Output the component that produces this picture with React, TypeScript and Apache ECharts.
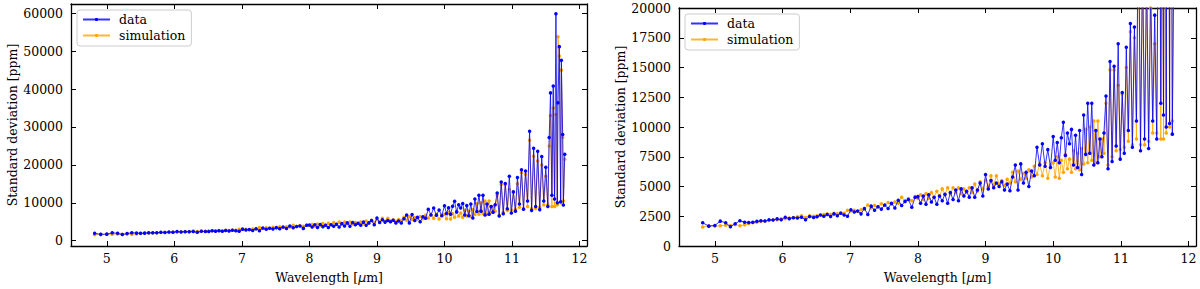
import React, { useEffect, useRef } from "react";
import * as echarts from "echarts";

const WAVELENGTH = [
  4.82, 4.91, 5.0, 5.08, 5.16, 5.23, 5.3, 5.37, 5.44, 5.5,
  5.56, 5.62, 5.68, 5.74, 5.8, 5.86, 5.92, 5.98, 6.04, 6.1, 6.16, 6.22, 6.28, 6.34, 6.4, 6.46,
  6.51, 6.56, 6.61, 6.66, 6.71, 6.76, 6.81, 6.86, 6.91, 6.96,
  7.01, 7.06, 7.11, 7.16, 7.21, 7.26, 7.31, 7.36, 7.41, 7.46,
  7.51, 7.56, 7.61, 7.66, 7.71, 7.76, 7.81, 7.86, 7.91, 7.96,
  8.0, 8.04, 8.08, 8.12, 8.16, 8.2, 8.24, 8.28, 8.32, 8.36,
  8.4, 8.44, 8.48, 8.52, 8.56, 8.6, 8.64, 8.68, 8.72, 8.76,
  8.8, 8.84, 8.88, 8.92, 8.96, 9.0, 9.04, 9.08, 9.12, 9.16,
  9.2, 9.24, 9.28, 9.32, 9.36, 9.4, 9.44, 9.48, 9.52, 9.56,
  9.6, 9.64, 9.68, 9.72, 9.76, 9.8, 9.84, 9.88, 9.92, 9.96,
  10.0, 10.03, 10.06, 10.09, 10.12, 10.15, 10.18, 10.21, 10.24, 10.27,
  10.3, 10.33, 10.36, 10.39, 10.42, 10.45, 10.48, 10.51, 10.54, 10.57,
  10.6, 10.63, 10.66, 10.69, 10.72, 10.75, 10.78, 10.81, 10.84, 10.87,
  10.9, 10.93, 10.96, 10.99, 11.02, 11.05, 11.08, 11.11, 11.14, 11.17,
  11.2, 11.23, 11.26, 11.29, 11.32, 11.35, 11.38, 11.41, 11.44, 11.47,
  11.5, 11.53, 11.55, 11.57, 11.59, 11.61, 11.63, 11.65, 11.67, 11.68,
  11.7, 11.72, 11.73, 11.75, 11.76, 11.78,
];

const DATA_STD = [
  1950, 1670, 1730, 2090, 1950, 1620, 1870, 2120, 2000, 1980,
  2000, 2080, 2120, 2100, 2200, 2180, 2280, 2200, 2420, 2300, 2380, 2350, 2420, 2200, 2480, 2400,
  2450, 2600, 2500, 2650, 2480, 2700, 2550, 2750, 2600, 2500,
  3050, 2850, 2950, 2700, 3150, 2650, 3350, 3000, 3300, 3100,
  3450, 3150, 3600, 3200, 3850, 3400, 3750, 3900, 3250, 4100,
  4150, 3600, 4200, 3500, 4300, 3700, 4100, 3500, 4200, 3800,
  4350, 3600, 4500, 3900, 4700, 3800, 4800, 4200, 4600, 4100,
  4900, 4100, 4700, 5300, 4200, 6000, 4800, 5500, 4900, 5300,
  5000, 5400, 4700, 5200, 4650, 5800, 6800, 4700, 6900, 5300,
  6200, 5000, 6300, 5900, 8300, 6800, 8600, 6700, 8100, 6600,
  9200, 7200, 8700, 7000, 9100, 10400, 7600, 9500, 8600, 9800,
  6800, 9300, 6600, 9700, 6000, 11000, 7700, 12000, 7800, 12000,
  6800, 9700, 7000, 9000, 7500, 9500, 12600, 6500, 15500, 7100,
  15100, 8400, 17000, 7300, 12900, 7800, 16700, 9700, 18700, 8300,
  18400, 10500, 28900, 8000, 24400, 9000, 23600, 8200, 22200, 10500,
  19400, 9000, 27200, 39000, 12000, 40800, 11000, 59900, 10000, 36400,
  51200, 10300, 47600, 28000, 9400, 22800,
];

const SIM_STD = [
  1600, 1700, 1680, 1700, 1750, 1720, 1800, 1700, 1780, 1900,
  1950, 2000, 2050, 2100, 2150, 2200, 2200, 2280, 2300, 2350, 2400, 2450, 2550, 2400, 2550, 2500,
  2550, 2600, 2650, 2700, 2650, 2750, 2700, 2800, 2750, 3000,
  2950, 3000, 2900, 3050, 3100, 3450, 3200, 3400, 3300, 3550,
  3400, 3650, 3500, 3700, 3600, 4100, 3750, 4000, 3800, 4150,
  4000, 4300, 3900, 4400, 4000, 4500, 4100, 4600, 4200, 4800,
  4300, 4900, 4400, 4900, 4500, 4900, 4400, 4800, 4500, 4900,
  4500, 5200, 4600, 5400, 4800, 5500, 5000, 5900, 5100, 5900,
  5200, 5500, 5100, 5600, 5300, 6200, 5400, 6300, 5600, 6100,
  5700, 6400, 5800, 6700, 6000, 6900, 5900, 7000, 5700, 6800,
  7000, 5800, 7500, 5700, 7200, 6200, 7700, 6500, 7300, 6200,
  8000, 6500, 7800, 6400, 8200, 6900, 9800, 7000, 10000, 7200,
  10500, 7000, 10500, 7500, 9000, 7800, 12000, 6800, 14800, 7500,
  14800, 8000, 13500, 8100, 12800, 8300, 15000, 8800, 18000, 8500,
  17500, 9000, 26500, 8500, 22300, 8500, 21000, 8800, 20000, 9500,
  17000, 9500, 25000, 33000, 9000, 35000, 9000, 33300, 9500, 53800,
  48700, 10000, 45000, 27200, 10500, 21500,
];

const SERIES_NAMES = ["data", "simulation"];
const X_LABEL = "Wavelength [{it|μ}m]";
const Y_LABEL = "Standard deviation [ppm]";

const FONT = "DejaVu Serif";
const FS = 12.5;
const BLUE = "#0000ff";
const ORANGE = "#ffa500";

const X_MIN = 4.47;
const X_MAX = 12.11;

function xAxis(gridIndex: number, position: string, main: boolean) {
  return {
    type: "value",
    gridIndex,
    position,
    min: X_MIN,
    max: X_MAX,
    splitNumber: 7,
    minInterval: 1,
    maxInterval: 1,
    axisLine: { show: true, onZero: false, lineStyle: { color: "#000", width: 1.3 } },
    axisTick: { show: true, inside: true, length: 5, lineStyle: { color: "#000", width: 1 } },
    axisLabel: {
      show: main,
      margin: 6,
      color: "#000",
      fontFamily: FONT,
      fontSize: FS,
      showMinLabel: false,
      showMaxLabel: false,
      formatter: (v: number) => (Math.abs(v - Math.round(v)) < 1e-6 ? String(Math.round(v)) : ""),
    },
    splitLine: { show: false },
    name: main ? X_LABEL : "",
    nameLocation: "middle",
    nameGap: 25,
    nameTextStyle: {
      color: "#000",
      fontFamily: FONT,
      fontSize: FS,
      rich: { it: { fontStyle: "italic", fontFamily: "DejaVu Sans", fontSize: FS, color: "#000" } },
    },
  };
}

function yAxis(gridIndex: number, position: string, main: boolean, min: number, max: number, step: number) {
  return {
    type: "value",
    gridIndex,
    position,
    min,
    max,
    minInterval: step,
    maxInterval: step,
    axisLine: { show: true, onZero: false, lineStyle: { color: "#000", width: 1.3 } },
    axisTick: { show: true, inside: true, length: 5, lineStyle: { color: "#000", width: 1 } },
    axisLabel: {
      show: main,
      margin: 8,
      color: "#000",
      fontFamily: FONT,
      fontSize: FS,
      showMinLabel: min % step === 0,
      showMaxLabel: max % step === 0,
      formatter: (v: number) => (v % step === 0 ? String(v) : ""),
    },
    splitLine: { show: false },
    name: main ? Y_LABEL : "",
    nameLocation: "middle",
    nameRotate: 90,
    nameGap: 50,
    nameTextStyle: { color: "#000", fontFamily: FONT, fontSize: FS },
  };
}

function lineSeries(name: string, values: number[], xi: number, yi: number) {
  const isData = name === "data";
  const c = isData ? BLUE : ORANGE;
  return {
    name,
    type: "line",
    xAxisIndex: xi,
    yAxisIndex: yi,
    data: WAVELENGTH.map((w, i) => [w, values[i]]),
    z: isData ? 3 : 2,
    symbol: "circle",
    symbolSize: 3.5,
    showSymbol: true,
    showAllSymbol: true,
    clip: true,
    itemStyle: { color: c },
    lineStyle: { color: c, width: 1, opacity: 0.8 },
    emphasis: { disabled: true },
  };
}

function legend(left: number, top: number) {
  return {
    data: SERIES_NAMES,
    orient: "vertical",
    left,
    top,
    padding: [3, 6, 4, 5],
    itemGap: 3,
    itemWidth: 27,
    itemHeight: 4,
    backgroundColor: "rgba(255,255,255,0.8)",
    borderColor: "#cccccc",
    borderWidth: 1,
    borderRadius: 3,
    selectedMode: false,
    textStyle: { fontFamily: FONT, fontSize: FS, color: "#000", padding: [0, 0, 0, 4] },
  };
}

export default function App() {
  const ref = useRef<HTMLDivElement>(null);
  useEffect(() => {
    if (!ref.current) return;
    const chart = echarts.init(ref.current, undefined, { renderer: "svg" });
    chart.setOption({
      animation: false,
      backgroundColor: "#ffffff",
      textStyle: { fontFamily: FONT },
      grid: [
        { left: 71, top: 4, width: 516, height: 242 },
        { left: 679, top: 8, width: 517, height: 238 },
      ],
      xAxis: [
        xAxis(0, "bottom", true),
        xAxis(0, "top", false),
        xAxis(1, "bottom", true),
        xAxis(1, "top", false),
      ],
      yAxis: [
        yAxis(0, "left", true, -1400, 62450, 10000),
        yAxis(0, "right", false, -1400, 62450, 10000),
        yAxis(1, "left", true, 0, 20000, 2500),
        yAxis(1, "right", false, 0, 20000, 2500),
      ],
      legend: [legend(77, 10), legend(685, 14)],
      series: [
        lineSeries("simulation", SIM_STD, 0, 0),
        lineSeries("data", DATA_STD, 0, 0),
        lineSeries("simulation", SIM_STD, 2, 2),
        lineSeries("data", DATA_STD, 2, 2),
      ],
    });
    return () => chart.dispose();
  }, []);
  return (
    <div
      ref={ref}
      style={{ position: "absolute", left: 0, top: 0, width: 1200, height: 289 }}
    />
  );
}
